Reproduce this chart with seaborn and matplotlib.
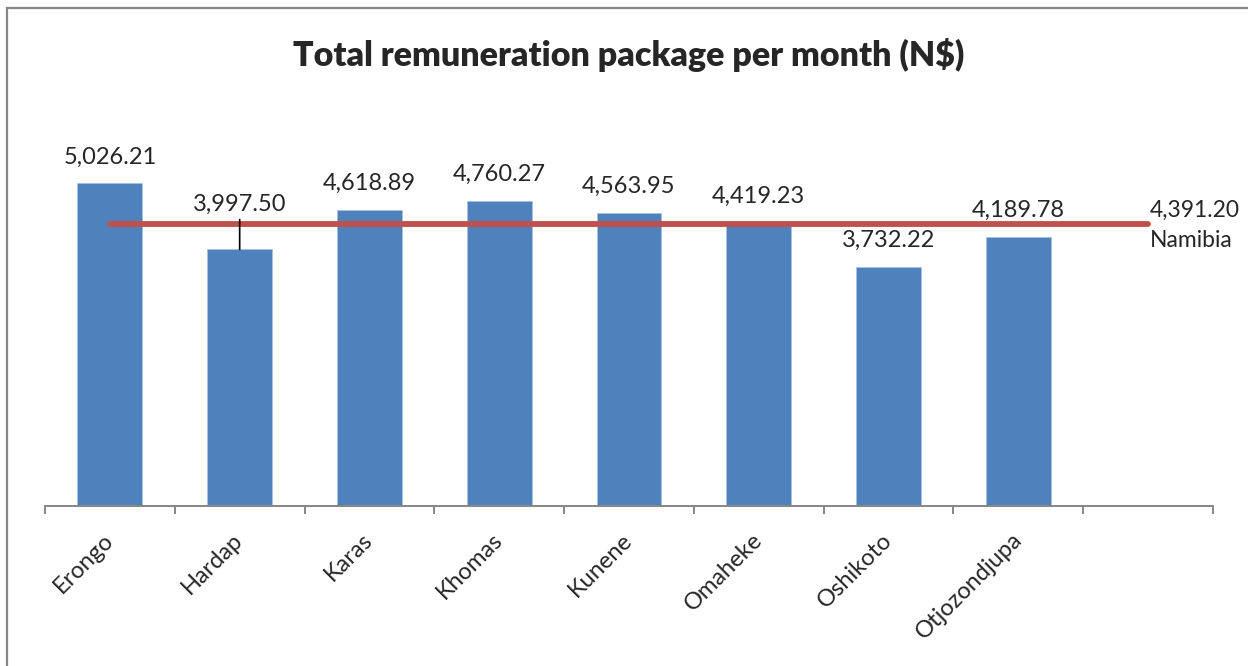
import matplotlib
matplotlib.use("Agg")
import matplotlib.pyplot as plt
import matplotlib.patches as mpatches
from matplotlib.ticker import FixedLocator
import pandas as pd
import seaborn as sns

regioes = ["Erongo", "Hardap", "Karas", "Khomas", "Kunene",
           "Omaheke", "Oshikoto", "Otjozondjupa"]
valores = [5026.21, 3997.50, 4618.89, 4760.27, 4563.95,
           4419.23, 3732.22, 4189.78]
namibia = 4391.20
titulo = "Total remuneration package per month (N$)"

AZUL = "#4F81BD"
VERMELHO = "#C0504D"
CINZA = "#868686"

sns.set_theme(style="white")
plt.rcParams["font.family"] = ["Lato", "DejaVu Sans"]

df = pd.DataFrame({"Regiao": regioes, "Valor": valores})

fig = plt.figure(figsize=(12.48, 6.66), dpi=100)
ax = fig.add_axes([45 / 1248, 160 / 666, 1168 / 1248, 385 / 666])

sns.barplot(data=df, x="Regiao", y="Valor", color=AZUL, width=0.5,
            saturation=1, edgecolor="#A9C1E0", linewidth=0.6, ax=ax)

n = len(regioes)
ax.set_xlim(-0.5, n + 0.5)
ax.set_ylim(0, 6000)

# linha da media nacional
ax.plot([0, n], [namibia, namibia], color=VERMELHO, lw=4.2,
        solid_capstyle="round", zorder=3)
ax.text(n + 0.01, namibia - 20, f"{namibia:,.2f}\nNamibia", ha="left", va="center",
        fontsize=16.5, linespacing=1.5, zorder=4)

# rotulos dos valores
for i, v in enumerate(valores):
    if regioes[i] == "Hardap":
        ax.annotate(f"{v:,.2f}", xy=(i, v), xytext=(i, namibia + 310),
                    ha="center", va="center", fontsize=17,
                    arrowprops=dict(arrowstyle="-", color="black", lw=1.2,
                                    shrinkA=1, shrinkB=0))
    else:
        ax.annotate(f"{v:,.2f}", xy=(i, v), xytext=(0, 19),
                    textcoords="offset points", ha="center", va="center",
                    fontsize=17)

ax.set_xlabel("")
ax.set_ylabel("")
ax.set_yticks([])
for lado in ["left", "right", "top"]:
    ax.spines[lado].set_visible(False)
ax.spines["bottom"].set_color(CINZA)
ax.spines["bottom"].set_linewidth(1.4)

ax.set_xticks(range(n))
ax.set_xticklabels(regioes, rotation=45, ha="right", va="center",
                   rotation_mode="anchor", fontsize=17)
ax.tick_params(axis="x", which="major", length=0, pad=22)
ax.xaxis.set_minor_locator(FixedLocator([k - 0.5 for k in range(n + 2)]))
ax.tick_params(axis="x", which="minor", bottom=True, length=6, width=1.4,
               color=CINZA, direction="out")

fig.text(0.504, 1 - 55 / 666, titulo, ha="center", va="center",
         fontsize=24.5, fontweight="heavy")

# moldura do grafico
fig.patches.append(mpatches.Rectangle((7 / 1248, -0.1), 1.2, (666 - 8) / 666 + 0.1,
                                      transform=fig.transFigure, fill=False,
                                      edgecolor=CINZA, linewidth=1.6))

fig.savefig("out.png", dpi=100)
